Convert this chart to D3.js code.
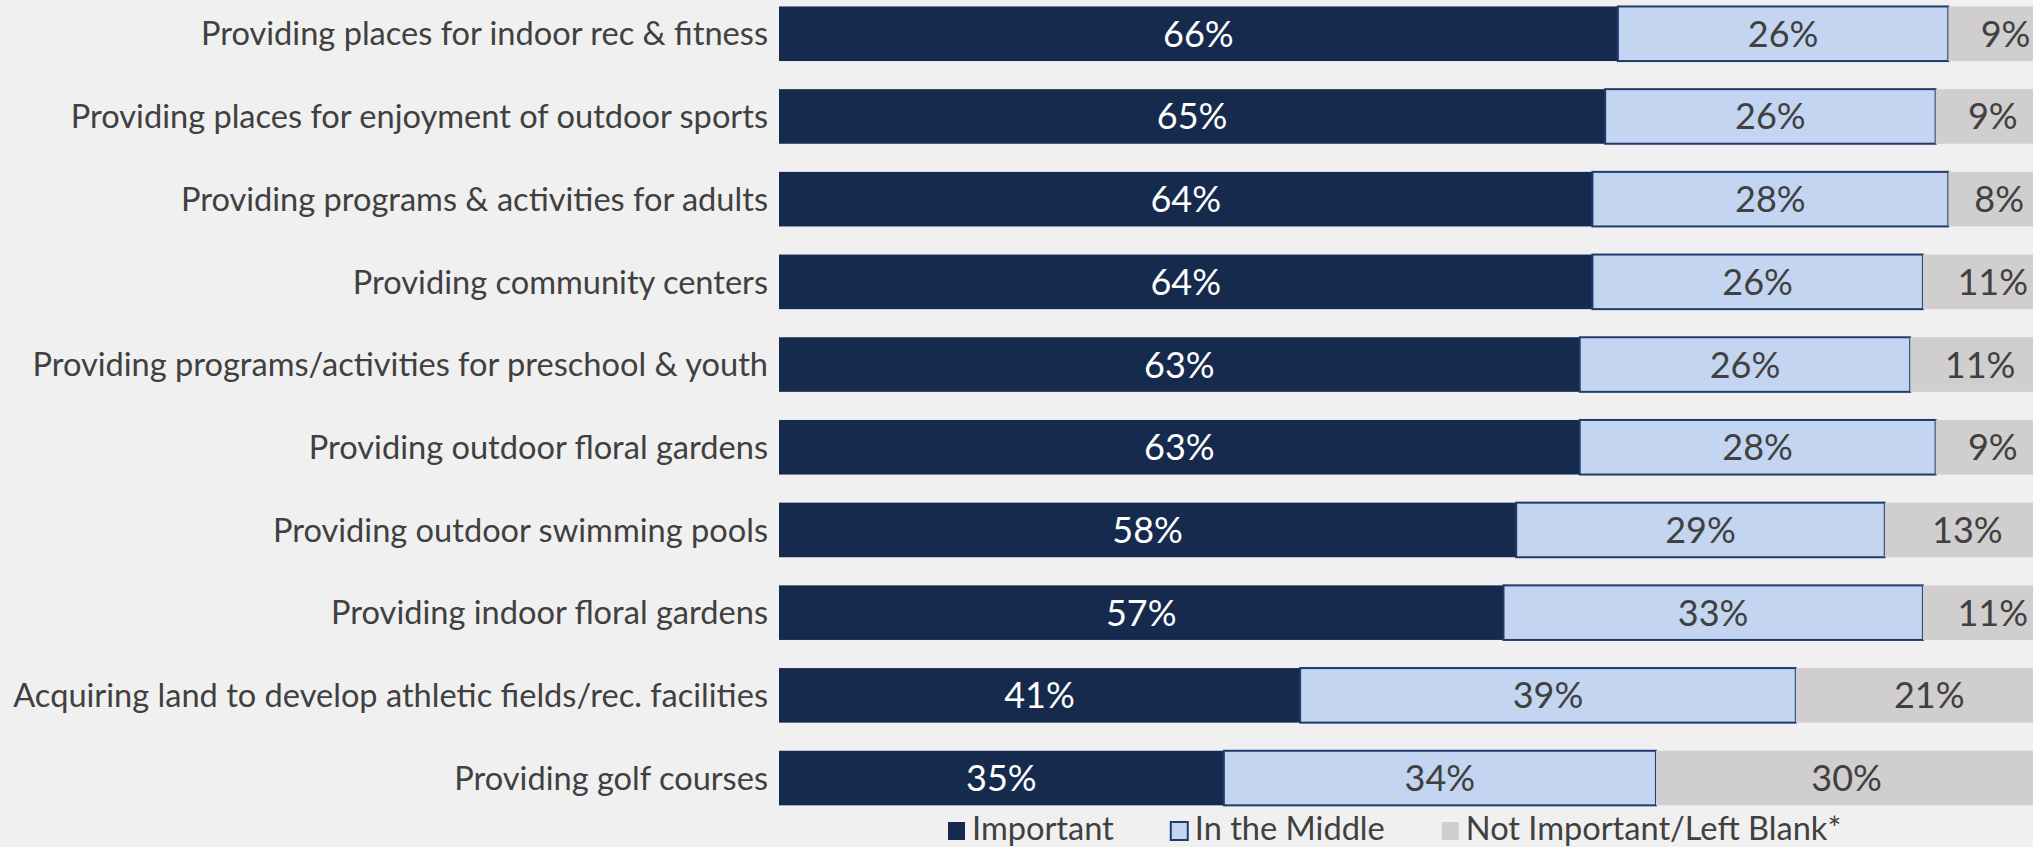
<!DOCTYPE html>
<meta charset="utf-8">
<style>
body { margin: 0; background: #f0f0f0; }
svg { display: block; font-family: "Lato", "Open Sans", sans-serif; }
</style>
<body>
<svg width="2033" height="847"></svg>
</body>
<script src="https://d3js.org/d3.v7.min.js"></script>
<script>
const categories = [
    "Providing places for indoor rec & fitness",
    "Providing places for enjoyment of outdoor sports",
    "Providing programs & activities for adults",
    "Providing community centers",
    "Providing programs/activities for preschool & youth",
    "Providing outdoor floral gardens",
    "Providing outdoor swimming pools",
    "Providing indoor floral gardens",
    "Acquiring land to develop athletic fields/rec. facilities",
    "Providing golf courses"
];
const important = [66, 65, 64, 64, 63, 63, 58, 57, 41, 35];
const middle = [26, 26, 28, 26, 26, 28, 29, 33, 39, 34];
const notImportant = [9, 9, 8, 11, 11, 9, 13, 11, 21, 30];
const seriesNames = ["Important", "In the Middle", "Not Important/Left Blank*"];

const colors = ["#162a4d", "#c3d5f0", "#d0cece"];
const strokes = ["none", "#1f3b6d", "none"];
const textColors = ["#ffffff", "#404040", "#404040"];

const svg = d3.select("svg");

// rows
const rows = categories.map((c, i) => ({
    cat: c, Important: important[i], "In the Middle": middle[i],
    "Not Important/Left Blank*": notImportant[i]
}));
const stack = d3.stack().keys(seriesNames)(rows);

const x = d3.scaleLinear().domain([0, 100]).range([779, 2050]);
const y = d3.scaleBand().domain(categories).range([-7.6, 819.4])
    .paddingInner(0.34).paddingOuter(0.17);

// labels
svg.append("g").selectAll("text")
    .data(categories).enter().append("text")
    .attr("x", 768)
    .attr("y", d => y(d) + y.bandwidth() / 2)
    .attr("dy", "0.36em")
    .attr("text-anchor", "end")
    .attr("fill", "#404040")
    .style("font-size", "32.6px")
    .text(d => d);

// bars
const layer = svg.append("g").selectAll("g")
    .data(stack).enter().append("g");

layer.selectAll("rect")
    .data((s, si) => s.map(d => ({d: d, si: si})))
    .enter().append("rect")
    .attr("x", v => x(v.d[0]))
    .attr("y", v => y(v.d.data.cat))
    .attr("width", v => x(v.d[1]) - x(v.d[0]))
    .attr("height", y.bandwidth())
    .attr("fill", v => colors[v.si])
    .attr("stroke", v => strokes[v.si])
    .attr("stroke-width", 2);

layer.selectAll("text")
    .data((s, si) => s.map(d => ({d: d, si: si})))
    .enter().append("text")
    .attr("x", v => (x(v.d[0]) + x(v.d[1])) / 2)
    .attr("y", v => y(v.d.data.cat) + y.bandwidth() / 2)
    .attr("dy", "0.36em")
    .attr("text-anchor", "middle")
    .attr("fill", v => textColors[v.si])
    .style("font-size", "36px")
    .text(v => (v.d[1] - v.d[0]) + "%");

// legend
const legend = svg.append("g");
let lx = 948;
seriesNames.forEach((name, i) => {
    legend.append("rect")
        .attr("x", lx).attr("y", 822)
        .attr("width", 17).attr("height", 18)
        .attr("fill", colors[i])
        .attr("stroke", strokes[i])
        .attr("stroke-width", 2);
    const t = legend.append("text")
        .attr("x", lx + 24).attr("y", 840)
        .attr("fill", "#404040")
        .style("font-size", "32.6px")
        .text(name);
    lx += 24 + t.node().getComputedTextLength() + 57;
});
</script>
